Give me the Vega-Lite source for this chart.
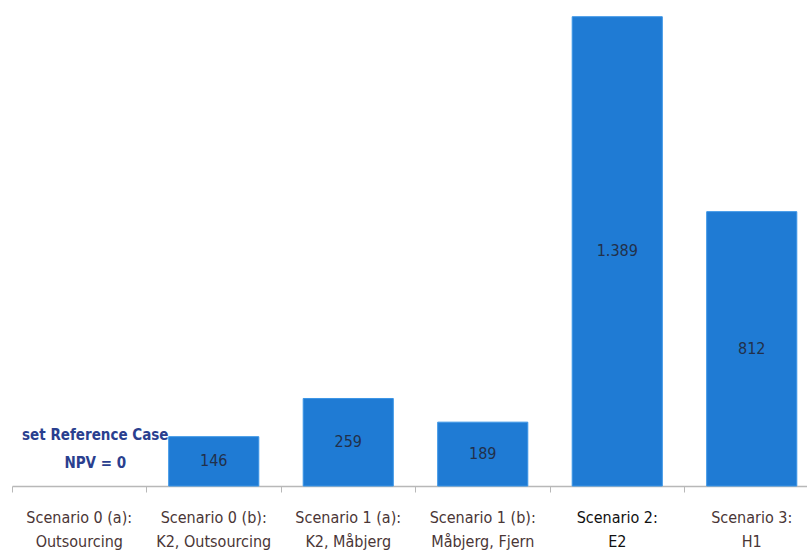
{
  "$schema": "https://vega.github.io/schema/vega-lite/v6.json",
  "width": 807,
  "height": 473,
  "autosize": "none",
  "padding": {"left": 0, "top": 13, "right": 0, "bottom": 65},
  "background": "white",
  "config": {
    "view": {"stroke": null},
    "locale": {"number": {"decimal": ",", "thousands": ".", "grouping": [3], "currency": ["", " kr"]}},
    "font": "'DejaVu Sans Condensed', 'Liberation Sans', sans-serif"
  },
  "data": {
    "values": [
      {"scenario": "Scenario 0 (a):|Outsourcing", "value": 0, "note": "set Reference Case|NPV = 0"},
      {"scenario": "Scenario 0 (b):|K2, Outsourcing", "value": 146, "note": ""},
      {"scenario": "Scenario 1 (a):|K2, Måbjerg", "value": 259, "note": ""},
      {"scenario": "Scenario 1 (b):|Måbjerg, Fjern", "value": 189, "note": ""},
      {"scenario": "Scenario 2:|E2", "value": 1389, "note": ""},
      {"scenario": "Scenario 3:|H1", "value": 812, "note": ""}
    ]
  },
  "transform": [{"calculate": "datum.value / 2", "as": "mid"}],
  "encoding": {
    "x": {
      "field": "scenario",
      "type": "nominal",
      "title": null,
      "scale": {
        "domain": ["Scenario 0 (a):|Outsourcing", "Scenario 0 (b):|K2, Outsourcing", "Scenario 1 (a):|K2, Måbjerg", "Scenario 1 (b):|Måbjerg, Fjern", "Scenario 2:|E2", "Scenario 3:|H1"],
        "range": [12, 819], "paddingInner": 0, "paddingOuter": 0
      },
      "axis": {
        "labelAngle": 0,
        "labelExpr": "split(datum.label, '|')",
        "labelFont": "'DejaVu Sans Condensed', 'Liberation Sans', sans-serif",
        "labelFontSize": 16,
        "labelLineHeight": 24,
        "labelPadding": 17,
        "labelColor": {"condition": {"test": "indexof(datum.label, 'Scenario 2') >= 0", "value": "#111111"}, "value": "#4a3636"},
        "bandPosition": 0,
        "tickSize": 6,
        "tickColor": "#b8b8b8",
        "domainColor": "#b8b8b8",
        "domainWidth": 1.5,
        "labelLimit": 200
      }
    }
  },
  "layer": [
    {
      "transform": [{"filter": "datum.value > 0"}],
      "mark": {"type": "bar", "width": {"band": 0.67}, "color": "#1f7bd4", "stroke": "#3b95e6", "strokeWidth": 1},
      "encoding": {
        "y": {"field": "value", "type": "quantitative", "scale": {"domain": [0, 1400]}, "axis": null}
      }
    },
    {
      "transform": [{"filter": "datum.value > 0"}],
      "mark": {"type": "text", "font": "'DejaVu Sans Condensed', 'Liberation Sans', sans-serif", "fontSize": 16, "color": "#22304a", "baseline": "middle"},
      "encoding": {
        "y": {"field": "mid", "type": "quantitative", "scale": {"domain": [0, 1400]}},
        "text": {"field": "value", "type": "quantitative", "format": ",d"}
      }
    },
    {
      "transform": [{"filter": "datum.note != ''"}],
      "mark": {"type": "text", "font": "'DejaVu Sans Condensed', 'Liberation Sans', sans-serif", "fontSize": 15, "fontWeight": "bold", "color": "#2a3f8f", "baseline": "alphabetic", "lineBreak": "|", "lineHeight": 28, "dx": 16, "dy": -46},
      "encoding": {
        "y": {"field": "value", "type": "quantitative", "scale": {"domain": [0, 1400]}},
        "text": {"field": "note"}
      }
    }
  ]
}
